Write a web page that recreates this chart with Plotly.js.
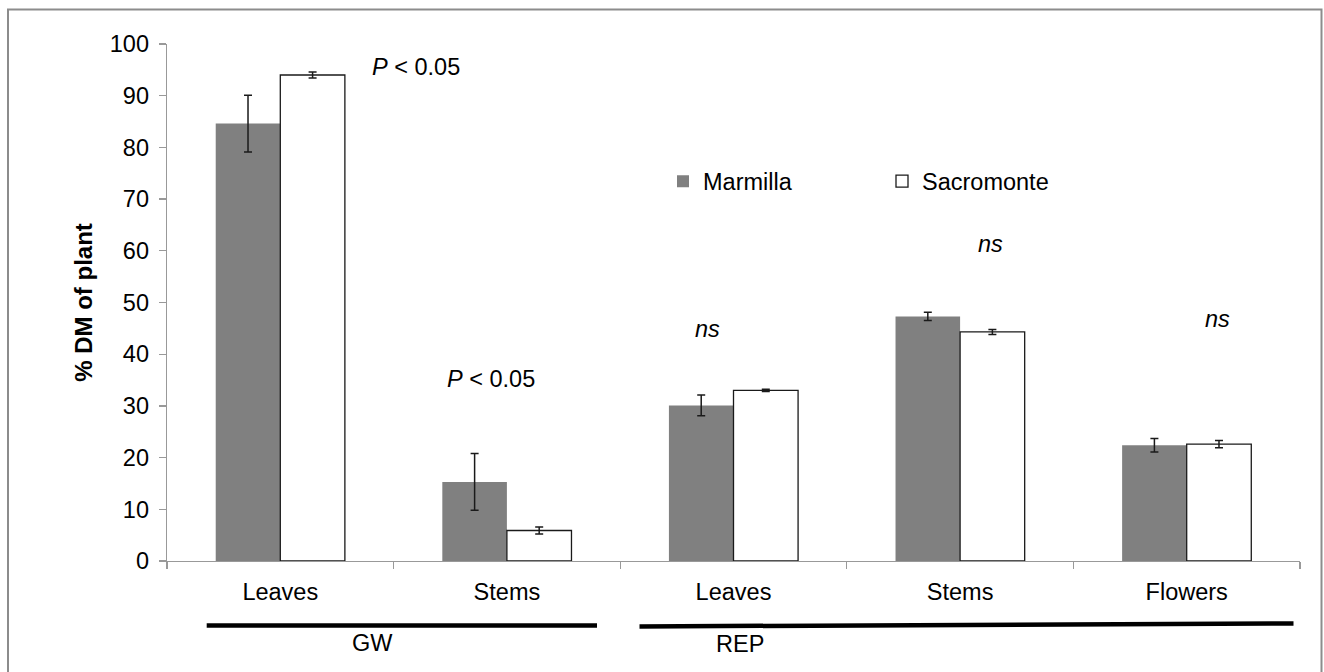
<!DOCTYPE html>
<html>
<head>
<meta charset="utf-8">
<script src="https://cdn.plot.ly/plotly-3.0.1.min.js"></script>
<style>html,body{margin:0;padding:0;background:#fff;}#chart{width:1324px;height:672px;}</style>
</head>
<body>
<div id="chart"></div>
<script>
// Data
var categories = ["Leaves", "Stems", "Leaves", "Stems", "Flowers"];
var groups = ["GW", "REP"];
var marmilla = [84.6, 15.3, 30.1, 47.3, 22.4];
var marmillaErr = [5.5, 5.5, 2.0, 0.8, 1.3];
var sacromonte = [94.0, 5.9, 33.0, 44.3, 22.6];
var sacromonteErr = [0.6, 0.7, 0.2, 0.5, 0.7];
var seriesNames = ["Marmilla", "Sacromonte"];
var yTicks = [0, 10, 20, 30, 40, 50, 60, 70, 80, 90, 100];

var xIdx = categories.map(function (_, i) { return i; });
var FONT = "Liberation Sans, Arial, sans-serif";
var FS = 23.5;

var traces = [
  {
    type: "bar", name: seriesNames[0], x: xIdx, y: marmilla,
    marker: { color: "#808080", line: { color: "#808080", width: 0 } },
    error_y: { type: "data", array: marmillaErr, visible: true, color: "#1a1a1a", thickness: 1.5, width: 4 },
    hoverinfo: "y"
  },
  {
    type: "bar", name: seriesNames[1], x: xIdx, y: sacromonte,
    marker: { color: "#ffffff", line: { color: "#1a1a1a", width: 1.3 } },
    error_y: { type: "data", array: sacromonteErr, visible: true, color: "#1a1a1a", thickness: 1.5, width: 4 },
    hoverinfo: "y"
  }
];

var L = 167, R = 1300, T = 43.5, B = 561;
var PW = R - L, PH = B - T;
function px(xp) { return (xp - L) / PW; }
function py(yp) { return (B - yp) / PH; }

var layout = {
  width: 1324, height: 672,
  margin: { l: L, r: 1324 - R, t: T, b: 672 - B, pad: 0 },
  paper_bgcolor: "#ffffff", plot_bgcolor: "#ffffff",
  font: { family: FONT, size: FS, color: "#000" },
  barmode: "group", bargap: 0.43, bargroupgap: 0,
  showlegend: true,
  legend: {
    orientation: "h", x: px(663), y: py(159), xanchor: "left", yanchor: "top",
    font: { family: FONT, size: FS, color: "#000" },
    bgcolor: "rgba(0,0,0,0)", borderwidth: 0,
    entrywidthmode: "pixels", entrywidth: 174, traceorder: "normal"
  },
  xaxis: {
    range: [-0.5, 4.5], tickmode: "array", tickvals: xIdx, ticktext: categories,
    ticks: "", showgrid: false, zeroline: false,
    showline: true, linecolor: "#999999", linewidth: 1.3,
    tickfont: { family: FONT, size: FS, color: "#000" },
    ticklabelstandoff: 9,
    minor: { tickmode: "linear", tick0: -0.5, dtick: 1, ticks: "outside", ticklen: 7, tickcolor: "#999999", tickwidth: 1.3, showgrid: false },
    fixedrange: true
  },
  yaxis: {
    range: [0, 100], tickmode: "array", tickvals: yTicks,
    ticks: "outside", ticklen: 7, tickcolor: "#999999", tickwidth: 1.3,
    showgrid: false, zeroline: false,
    showline: true, linecolor: "#999999", linewidth: 1.3,
    tickfont: { family: FONT, size: FS, color: "#000" },
    ticklabelstandoff: 5,
    title: { text: "<b>% DM of plant</b>", font: { family: FONT, size: 24, color: "#000" }, standoff: 10 },
    fixedrange: true
  },
  shapes: [
    { type: "rect", xref: "paper", yref: "paper", x0: px(8), x1: px(1321.5), y0: py(690), y1: py(9),
      line: { color: "#8c8c8c", width: 2 }, fillcolor: "rgba(0,0,0,0)", layer: "below" },
    { type: "line", xref: "paper", yref: "paper", x0: px(206.7), x1: px(597), y0: py(625.5), y1: py(625.5),
      line: { color: "#000", width: 4.5 } },
    { type: "line", xref: "paper", yref: "paper", x0: px(639.5), x1: px(1293.5), y0: py(626.5), y1: py(623.5),
      line: { color: "#000", width: 4.5 } }
  ],
  annotations: [
    { xref: "paper", yref: "paper", x: px(372), y: py(643), text: groups[0], showarrow: false,
      xanchor: "center", yanchor: "middle", font: { family: FONT, size: FS, color: "#000" } },
    { xref: "paper", yref: "paper", x: px(740), y: py(644), text: groups[1], showarrow: false,
      xanchor: "center", yanchor: "middle", font: { family: FONT, size: FS, color: "#000" } },
    { xref: "x", yref: "y", x: 0.396, y: 95.5, text: "<i>P</i> < 0.05", showarrow: false,
      xanchor: "left", yanchor: "middle", font: { family: FONT, size: FS, color: "#000" } },
    { xref: "x", yref: "y", x: 0.727, y: 35.2, text: "<i>P</i> < 0.05", showarrow: false,
      xanchor: "left", yanchor: "middle", font: { family: FONT, size: FS, color: "#000" } },
    { xref: "x", yref: "y", x: 1.887, y: 44.8, text: "<i>ns</i>", showarrow: false,
      xanchor: "center", yanchor: "middle", font: { family: FONT, size: FS, color: "#000" } },
    { xref: "x", yref: "y", x: 3.132, y: 61.3, text: "<i>ns</i>", showarrow: false,
      xanchor: "center", yanchor: "middle", font: { family: FONT, size: FS, color: "#000" } },
    { xref: "x", yref: "y", x: 4.138, y: 46.8, text: "<i>ns</i>", showarrow: false,
      xanchor: "center", yanchor: "middle", font: { family: FONT, size: FS, color: "#000" } }
  ]
};

Plotly.newPlot("chart", traces, layout, { displayModeBar: false, staticPlot: true });
</script>
</body>
</html>
